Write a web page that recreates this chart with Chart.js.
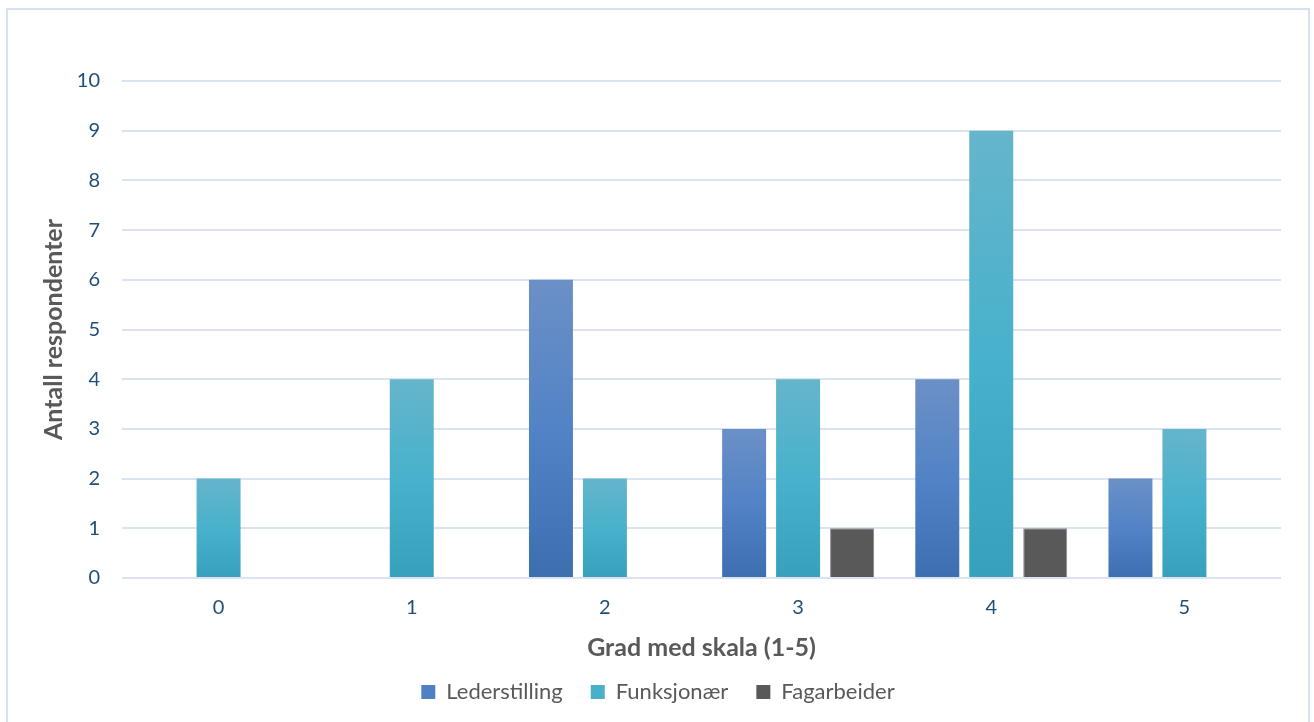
<!DOCTYPE html>
<html>
<head>
<meta charset="utf-8">
<script src="https://cdn.jsdelivr.net/npm/chart.js@4/dist/chart.umd.min.js"></script>
<style>
  html, body { margin: 0; padding: 0; background: #ffffff; }
  #wrap { width: 1314px; height: 722px; position: relative; }
</style>
</head>
<body>
<div id="wrap"><canvas id="chart" width="1314" height="722"></canvas></div>
<script>
// Responses per degree on the 1–5 scale, split by job type
const categories = ['0', '1', '2', '3', '4', '5'];
const lederstilling = [0, 0, 6, 3, 4, 2];
const funksjonaer = [2, 4, 2, 4, 9, 3];
const fagarbeider = [0, 0, 0, 1, 1, 0];
const yTicks = [0, 1, 2, 3, 4, 5, 6, 7, 8, 9, 10];

const FONT = 'Lato, "Open Sans", sans-serif';

// Vertical three-stop gradient spanning each bar from its top to the zero line
function barGradient(stops) {
  return function (ctx) {
    const chart = ctx.chart;
    if (!chart.chartArea || ctx.type !== 'data') return stops[1];
    const y = chart.scales.y;
    const v = ctx.raw || 0;
    const top = y.getPixelForValue(v);
    const base = y.getPixelForValue(0);
    if (!isFinite(top) || top === base) return stops[1];
    const g = chart.ctx.createLinearGradient(0, top, 0, base);
    g.addColorStop(0, stops[0]);
    g.addColorStop(0.5, stops[1]);
    g.addColorStop(1, stops[2]);
    return g;
  };
}

// Light blue frame around the whole chart
const framePlugin = {
  id: 'frame',
  beforeDraw(chart) {
    const c = chart.ctx;
    c.save();
    c.fillStyle = '#ffffff';
    c.fillRect(0, 0, chart.width, chart.height);
    c.strokeStyle = '#d6e2f3';
    c.lineWidth = 2;
    c.strokeRect(7, 9, 1302, 740);
    c.restore();
  }
};

new Chart(document.getElementById('chart'), {
  type: 'bar',
  data: {
    labels: categories,
    datasets: [
      {
        label: 'Lederstilling',
        data: lederstilling,
        backgroundColor: barGradient(['#6b90c6', '#5283c6', '#3c6eb0']),
        borderWidth: 0
      },
      {
        label: 'Funksjonær',
        data: funksjonaer,
        backgroundColor: barGradient(['#65b5cb', '#48b1cc', '#37a0ba']),
        borderWidth: 0
      },
      {
        label: 'Fagarbeider',
        data: fagarbeider,
        backgroundColor: '#595959',
        borderColor: '#8e8e8e',
        borderWidth: 1
      }
    ]
  },
  options: {
    responsive: false,
    animation: false,
    devicePixelRatio: 1,
    layout: { padding: { left: 35, top: 81, right: 33, bottom: 9 } },
    datasets: {
      bar: { categoryPercentage: 0.838, barPercentage: 0.815 }
    },
    scales: {
      x: {
        grid: { display: false, drawTicks: false },
        border: { display: false },
        ticks: {
          color: '#1f4e79',
          font: { family: FONT, size: 20 },
          padding: 18
        },
        title: {
          display: true,
          text: 'Grad med skala (1-5)',
          color: '#595959',
          font: { family: FONT, size: 25, weight: 'bold' },
          padding: { top: 0, bottom: -10 }
        },
        afterFit(scale) { scale.height = 75; }
      },
      y: {
        min: 0,
        max: 10,
        afterBuildTicks(scale) { scale.ticks = yTicks.map(v => ({ value: v })); },
        grid: { color: '#d9e3f2', lineWidth: 2, drawTicks: false },
        border: { display: false },
        ticks: {
          color: '#1f4e79',
          font: { family: FONT, size: 20 },
          padding: 22
        },
        title: {
          display: true,
          text: 'Antall respondenter',
          color: '#595959',
          font: { family: FONT, size: 25, weight: 'bold' },
          padding: { top: 4, bottom: 4 }
        },
        afterFit(scale) { scale.width = 87; }
      }
    },
    plugins: {
      legend: {
        position: 'bottom',
        labels: {
          color: '#595959',
          font: { family: FONT, size: 22 },
          boxWidth: 14,
          boxHeight: 14,
          padding: 28,
          generateLabels(chart) {
            const fills = ['#4f80c3', '#48b0c9', '#595959'];
            return chart.data.datasets.map((ds, i) => ({
              text: ds.label,
              fillStyle: fills[i],
              strokeStyle: fills[i],
              lineWidth: 0,
              hidden: !chart.isDatasetVisible(i),
              datasetIndex: i,
              fontColor: '#595959'
            }));
          }
        }
      },
      tooltip: { enabled: false }
    }
  },
  plugins: [framePlugin]
});
</script>
</body>
</html>
